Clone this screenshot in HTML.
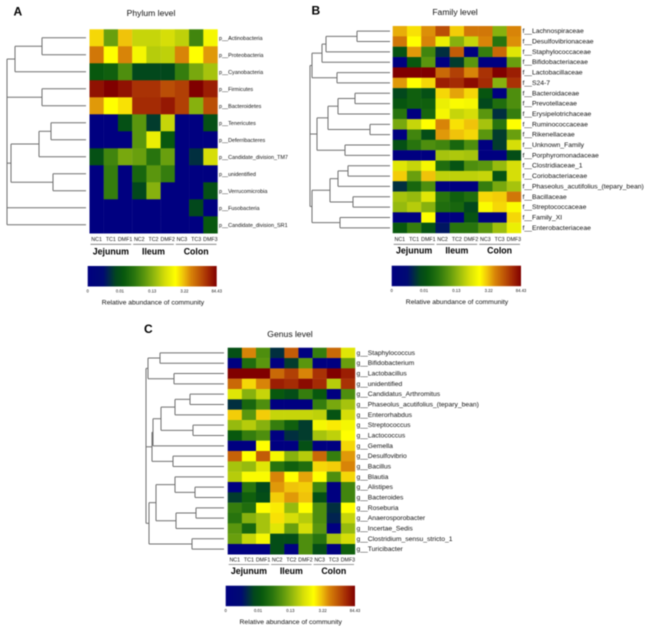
<!DOCTYPE html>
<html>
<head>
<meta charset="utf-8">
<title>Heatmaps of relative abundance</title>
<style>
html,body{margin:0;padding:0;background:#fff;width:650px;height:632px;overflow:hidden}
svg{display:block;filter:blur(0.45px)}
text{font-family:"Liberation Sans",sans-serif;fill:#111}
</style>
</head>
<body>
<svg id="figure" width="650" height="632" viewBox="0 0 650 632" xmlns="http://www.w3.org/2000/svg">
<defs>
<linearGradient id="scaleGradient" x1="0" x2="1" y1="0" y2="0"></linearGradient>
</defs>
</svg>
<script>
const sampleLabels = ['NC1','TC1','DMF1','NC2','TC2','DMF2','NC3','TC3','DMF3'];
const groupLabels = ['Jejunum','Ileum','Colon'];
const scaleTickLabels = ['0','0.01','0.13','3.22','84.43'];
const scaleTickValues = [0,25,50,75,100];
const scaleCaption = 'Relative abundance of community';

const phylumLabels = ['p__Actinobacteria','p__Proteobacteria','p__Cyanobacteria','p__Firmicutes','p__Bacteroidetes','p__Tenericutes','p__Deferribacteres','p__Candidate_division_TM7','p__unidentified','p__Verrucomicrobia','p__Fusobacteria','p__Candidate_division_SR1'];
const phylumValues = [
[72,46,74,58,58,60,57,40,66],
[82,68,80,66,56,57,80,68,78],
[28,30,42,22,22,22,38,48,54],
[97,100,97,92,92,88,90,100,95],
[78,68,71,93,93,96,90,50,88],
[0,0,25,44,20,58,0,0,25],
[0,0,0,44,64,28,0,0,0],
[25,40,48,46,36,46,0,18,60],
[0,38,0,32,44,38,0,0,0],
[0,38,0,22,50,0,0,0,25],
[0,0,0,0,0,0,0,22,0],
[0,0,0,0,0,0,0,0,28]
];
const phylumTree = [79,[79,[71,[44,0,0],0],[44,0,0]],[75,[47,[35,0,0],0],[33,0,0]],0,0];

const familyLabels = ['f__Lachnospiraceae','f__Desulfovibrionaceae','f__Staphylococcaceae','f__Bifidobacteriaceae','f__Lactobacillaceae','f__S24-7','f__Bacteroidaceae','f__Prevotellaceae','f__Erysipelotrichaceae','f__Ruminococcaceae','f__Rikenellaceae','f__Unknown_Family','f__Porphyromonadaceae','f__Clostridiaceae_1','f__Coriobacteriaceae','f__Phaseolus_acutifolius_(tepary_bean)','f__Bacillaceae','f__Streptococcaceae','f__Family_XI','f__Enterobacteriaceae'];
const familyValues = [
[76,71,79,88,73,82,82,50,80],
[82,68,80,64,50,58,80,36,79],
[26,78,40,18,86,0,38,84,62],
[0,28,44,0,20,44,0,0,46],
[100,100,100,84,90,80,92,100,95],
[78,68,72,95,93,98,93,50,92],
[22,30,25,72,77,72,27,0,42],
[27,30,30,64,67,66,22,34,42],
[36,0,32,66,58,60,44,18,38],
[48,58,68,80,71,74,54,36,68],
[0,40,24,78,74,72,44,20,46],
[25,36,42,40,32,42,0,20,60],
[0,0,0,54,55,54,0,0,24],
[62,58,66,34,26,42,44,52,60],
[73,46,74,57,57,57,58,26,60],
[18,32,42,0,0,0,38,48,54],
[54,52,62,36,30,34,72,73,82],
[52,56,50,34,32,22,67,72,67],
[0,0,68,0,0,26,0,0,72],
[28,38,26,14,36,36,44,53,64]
];
const familyTree = [80,[78,[68,[64,[33,0,0],0],0],[53,0,0]],[73,[62,[52,[35,0,0],0],[20,0,0]],[45,0,0]],[78,[60,[52,[42,0,0],0],[37,0,0]],[50,0,0]]];

const genusLabels = ['g__Staphylococcus','g__Bifidobacterium','g__Lactobacillus','g__unidentified','g__Candidatus_Arthromitus','g__Phaseolus_acutifolius_(tepary_bean)','g__Enterorhabdus','g__Streptococcus','g__Lactococcus','g__Gemella','g__Desulfovibrio','g__Bacillus','g__Blautia','g__Alistipes','g__Bacteroides','g__Roseburia','g__Anaerosporobacter','g__Incertae_Sedis','g__Clostridium_sensu_stricto_1','g__Turicibacter'];
const genusValues = [
[25,80,42,18,86,0,38,84,62],
[0,34,44,0,20,44,0,0,46],
[100,100,100,84,90,80,92,100,95],
[84,72,80,95,93,98,93,56,92],
[62,50,58,28,24,38,28,0,42],
[18,32,42,0,0,0,38,48,54],
[73,44,73,58,58,58,57,26,60],
[52,56,50,38,30,20,66,70,66],
[28,38,42,0,18,20,54,57,68],
[0,0,68,0,0,25,0,0,72],
[85,68,86,66,50,56,84,38,78],
[54,52,62,36,30,34,72,73,80],
[56,67,67,80,68,77,68,42,72],
[0,36,22,78,74,73,40,0,40],
[20,30,24,73,78,74,25,0,40],
[38,34,68,70,52,68,42,18,68],
[36,50,54,71,60,56,42,16,58],
[44,32,54,62,46,60,44,0,52],
[46,58,66,24,24,42,36,54,60],
[0,0,0,24,0,42,24,0,30]
];
const genusTree = [78,[76,[64,0,0],[50,0,0]],[72,[71,[63,[49,[34,0,0],0],[31,0,0]],0],[51,0,0]],[75,[68,[49,0,[29,0,0]],[48,[28,0,0],0]],[32,0,0]]];

const NS = 'http://www.w3.org/2000/svg';
const figure = document.getElementById('figure');

function make(parent, tag, attrs, content) {
  const el = document.createElementNS(NS, tag);
  for (const key in attrs) el.setAttribute(key, attrs[key]);
  if (content !== undefined) el.textContent = content;
  parent.appendChild(el);
  return el;
}

const colorStops = [
  [0,[0,0,128]],[12,[0,10,115]],[22,[2,72,28]],[28,[8,88,14]],[36,[40,116,14]],
  [44,[90,150,14]],[52,[150,186,14]],[60,[214,222,8]],[68,[255,255,0]],
  [74,[240,195,10]],[80,[216,132,8]],[88,[186,78,6]],[94,[160,36,4]],[100,[128,0,0]]
];
function colorScale(value) {
  const v = Math.max(0, Math.min(100, value));
  for (let i = 1; i < colorStops.length; i++) {
    const a = colorStops[i - 1], b = colorStops[i];
    if (v <= b[0]) {
      const t = (v - a[0]) / (b[0] - a[0]);
      const c = a[1].map((n, k) => Math.round(n + (b[1][k] - n) * t));
      return 'rgb(' + c.join(',') + ')';
    }
  }
  return 'rgb(128,0,0)';
}
const scaleGradient = document.getElementById('scaleGradient');
colorStops.forEach(function (s) {
  make(scaleGradient, 'stop', {offset: s[0] + '%', 'stop-color': colorScale(s[0])});
});

function drawTree(g, node, state, leafEnd, yOf) {
  if (node === 0) {
    return {x: leafEnd, y: yOf(state.next++)};
  }
  const kids = node.slice(1).map(function (k) { return drawTree(g, k, state, leafEnd, yOf); });
  const x = leafEnd - node[0];
  kids.forEach(function (k) {
    const h = make(g, 'line', {x1: x, x2: k.x, y1: k.y, y2: k.y, stroke: '#6f6f6f', 'stroke-width': 1});
    
    
  });
  const y0 = kids[0].y, y1 = kids[kids.length - 1].y;
  const v = make(g, 'line', {x1: x, x2: x, y1: y0, y2: y1, stroke: '#6f6f6f', 'stroke-width': 1});
  
  
  return {x: x, y: (y0 + y1) / 2};
}

function drawPanel(p) {
  const g = make(figure, 'g', {});
  
  

  const letter = make(g, 'text', {x: p.letterX, y: p.letterY, 'font-size': 12, 'font-weight': 'bold', style: 'fill:#000'}, p.letter);
  
  

  const title = make(g, 'text', {x: p.titleX, y: p.titleY, 'font-size': 8.6, 'text-anchor': 'middle'}, p.title);
  
  

  const cols = sampleLabels.length;
  const rows = p.values.length;
  const cw = (p.x1 - p.x0) / cols;
  const rh = (p.y1 - p.y0) / rows;
  const yOf = function (r) { return p.y0 + (r + 0.5) * rh; };
  const xOf = function (c) { return p.x0 + (c + 0.5) * cw; };

  p.values.forEach(function (row, r) {
    row.forEach(function (value, c) {
      const cell = make(g, 'rect', {x: p.x0 + c * cw, y: p.y0 + r * rh, width: cw + 0.2, height: rh + 0.2, fill: colorScale(value)});
      
      
    });
    const label = make(g, 'text', {x: p.x1 + 1.5, y: yOf(r) + 2, 'font-size': p.labelSize}, p.labels[r]);
    
    
  });

  const tree = make(g, 'g', {});
  
  
  drawTree(tree, p.tree, {next: 0}, p.leafEnd, yOf);

  sampleLabels.forEach(function (s, c) {
    const t = make(g, 'text', {x: xOf(c), y: p.colY, 'font-size': 5.3, 'text-anchor': 'middle'}, s);
    
    
  });
  groupLabels.forEach(function (s, i) {
    const u = make(g, 'line', {x1: p.x0 + i * 3 * cw + 1, x2: p.x0 + (i + 1) * 3 * cw - 1, y1: p.ruleY, y2: p.ruleY, stroke: '#777', 'stroke-width': 0.8});
    
    
    const t = make(g, 'text', {x: xOf(i * 3 + 1), y: p.groupY, 'font-size': 8.8, 'font-weight': 'bold', 'text-anchor': 'middle', style: 'fill:#000'}, s);
    
    
  });

  const bar = make(g, 'rect', {x: p.barX0, y: p.barY, width: p.barX1 - p.barX0, height: 20.5, fill: 'url(#scaleGradient)'});
  
  
  scaleTickLabels.forEach(function (s, i) {
    const x = p.barX0 + (p.barX1 - p.barX0) * scaleTickValues[i] / 100;
    const t = make(g, 'text', {x: x, y: p.barY + 26.5, 'font-size': 4.2, 'text-anchor': 'middle'}, s);
    
    
  });
  const cap = make(g, 'text', {x: p.capX, y: p.barY + 38.5, 'font-size': 6.8, 'text-anchor': 'middle'}, scaleCaption);
  
  
}

drawPanel({name:'phylum-panel',letter:'A',letterX:13.5,letterY:15.5,title:'Phylum level',titleX:151,titleY:16,
  values:phylumValues,labels:phylumLabels,tree:phylumTree,labelSize:5.45,leafEnd:86,
  x0:89.5,x1:217.5,y0:29.3,y1:233.3,colY:241,ruleY:244.3,groupY:254.5,barX0:87.7,barX1:216.7,barY:266,capX:153});
drawPanel({name:'family-panel',letter:'B',letterX:311.5,letterY:14.5,title:'Family level',titleX:455,titleY:15,
  values:familyValues,labels:familyLabels,tree:familyTree,labelSize:6.8,leafEnd:390,
  x0:392.7,x1:521,y0:26,y1:233,colY:241,ruleY:244.3,groupY:253.5,barX0:391.7,barX1:521,barY:265.7,capX:457});
drawPanel({name:'genus-panel',letter:'C',letterX:144,letterY:333,title:'Genus level',titleX:290,titleY:337,
  values:genusValues,labels:genusLabels,tree:genusTree,labelSize:6.75,leafEnd:224,
  x0:227.7,x1:355,y0:347.7,y1:554.3,colY:561.5,ruleY:564.5,groupY:574,barX0:225.7,barX1:355,barY:585.7,capX:290.7});
</script>
</body>
</html>
